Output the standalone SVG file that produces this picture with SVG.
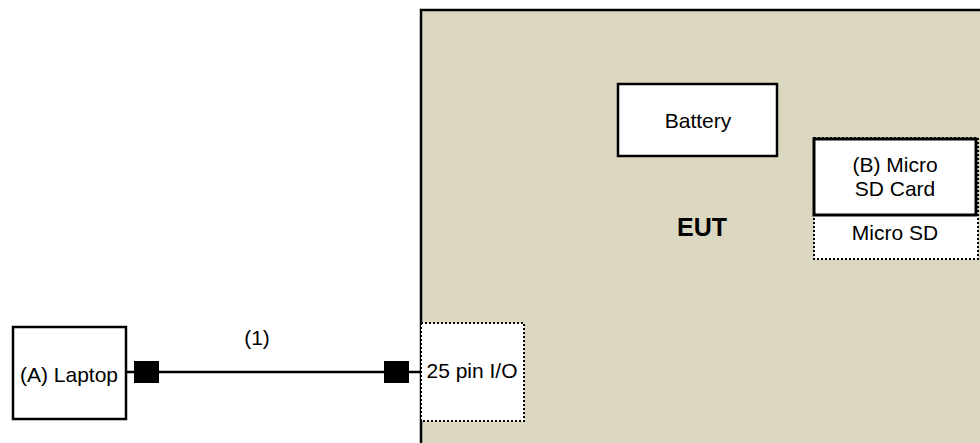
<svg xmlns="http://www.w3.org/2000/svg" width="980" height="443" viewBox="0 0 980 443">
<style>
text{font-family:"Liberation Sans",Arial,sans-serif;font-size:21px;fill:#000;text-anchor:middle}
.solid{fill:#fff;stroke:#000;stroke-width:2.5}
.dot{fill:#fff;stroke:#000;stroke-width:2;stroke-dasharray:2 2}
.plug{fill:#000}
</style>
<rect width="980" height="443" fill="#fff"/>
<g id="eut">
<rect x="421" y="10" width="600" height="450" fill="#DCD7C0" stroke="#000" stroke-width="2.5"/>
<text x="702" y="236" style="font-weight:bold;font-size:25px">EUT</text>
</g>
<g id="battery">
<rect class="solid" x="618" y="84" width="159" height="72"/>
<text x="698" y="128">Battery</text>
</g>
<g id="microsd">
<rect class="dot" x="814" y="138" width="164" height="121"/>
<rect class="solid" x="814" y="139" width="162" height="76" style="stroke-width:3"/>
<text x="895" y="172">(B) Micro</text>
<text x="895" y="196">SD Card</text>
<text x="895" y="240">Micro SD</text>
</g>
<g id="io">
<rect class="dot" x="421" y="323" width="103" height="98"/>
<text x="472" y="378">25 pin I/O</text>
</g>
<g id="laptop">
<rect class="solid" x="13" y="327" width="113" height="92"/>
<text x="69" y="382">(A) Laptop</text>
</g>
<g id="connectors">
<line x1="126" y1="372" x2="421" y2="372" stroke="#000" stroke-width="2.5"/>
<rect class="plug" x="134" y="361" width="25" height="22"/>
<rect class="plug" x="384" y="361" width="25" height="22"/>
<text x="257" y="345">(1)</text>
</g>
</svg>
